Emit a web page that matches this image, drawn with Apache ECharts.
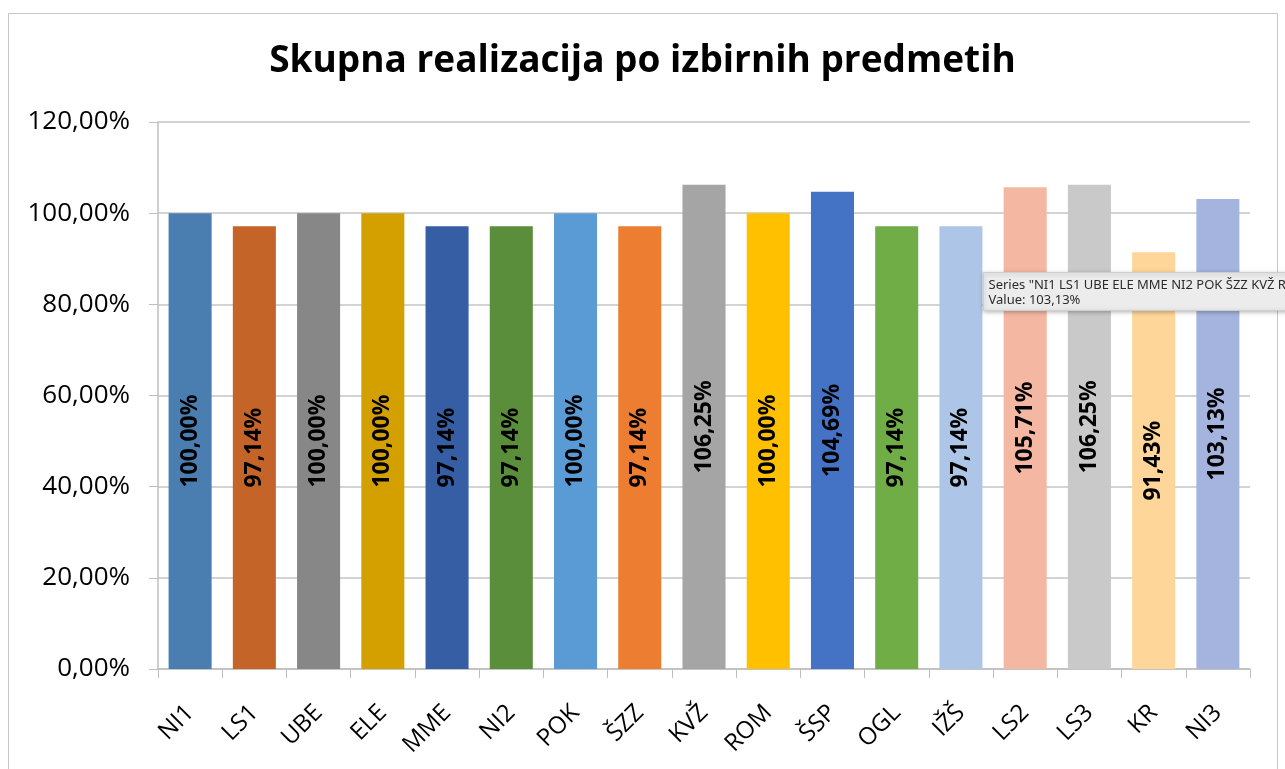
<!DOCTYPE html>
<html>
<head>
<meta charset="utf-8">
<script src="https://cdn.jsdelivr.net/npm/echarts@6/dist/echarts.min.js"></script>
<style>
  html, body { margin: 0; padding: 0; background: #fff; }
  #chart { width: 1285px; height: 769px; }
</style>
</head>
<body>
<div id="chart"></div>
<script>
// podatki
const categories = ['NI1', 'LS1', 'UBE', 'ELE', 'MME', 'NI2', 'POK', 'ŠZZ', 'KVŽ',
  'ROM', 'ŠSP', 'OGL', 'IŽŠ', 'LS2', 'LS3', 'KR', 'NI3']
const realizacija = [100, 97.14, 100, 100, 97.14, 97.14, 100, 97.14, 106.25,
  100, 104.69, 97.14, 97.14, 105.71, 106.25, 91.43, 103.13]
const yTicks = [0, 20, 40, 60, 80, 100, 120]

const barColors = [
  '#4a7eb1', '#c56428', '#878787', '#d4a000', '#355ea4', '#5a8e3a',
  '#5b9bd5', '#ed7d31', '#a5a5a5', '#ffc000', '#4472c4', '#70ad47',
  '#adc6e7', '#f4b8a2', '#c9c9c9', '#ffd699', '#a5b4de'
]

const fmt = v => v.toFixed(2).replace('.', ',') + '%'
const font = '"Open Sans", "Noto Sans", sans-serif'

const chart = echarts.init(document.getElementById('chart'))

const option = {
  backgroundColor: '#fff',
  animation: false,
  textStyle: { fontFamily: font },
  title: {
    text: 'Skupna realizacija po izbirnih predmetih',
    left: 'center',
    top: 38,
    textStyle: { fontSize: 37, fontWeight: 'bold', color: '#000', fontFamily: font }
  },
  grid: { left: 158, right: 35, top: 122, bottom: 100 },
  xAxis: {
    type: 'category',
    data: categories,
    axisLine: { lineStyle: { color: '#bfbfbf', width: 1.5 } },
    axisTick: { show: true, length: 9, lineStyle: { color: '#bfbfbf' } },
    axisLabel: { rotate: 45, fontSize: 24, color: '#000', margin: 40 }
  },
  yAxis: {
    type: 'value',
    min: yTicks[0],
    max: yTicks[yTicks.length - 1],
    interval: 20,
    axisLine: { show: true, lineStyle: { color: '#bfbfbf', width: 1.5 } },
    axisTick: { show: true, length: 9, lineStyle: { color: '#bfbfbf' } },
    splitLine: { lineStyle: { color: '#c4c4c4', width: 1.5 } },
    axisLabel: { fontSize: 26, color: '#000', margin: 28, formatter: v => fmt(v) }
  },
  series: [{
    type: 'bar',
    data: realizacija.map((v, i) => ({ value: v, itemStyle: { color: barColors[i] } })),
    barWidth: '67%',
    label: {
      show: true,
      position: 'inside',
      rotate: 90,
      fontSize: 23,
      fontWeight: 'bold',
      color: '#000',
      formatter: p => fmt(p.value)
    }
  }],
  graphic: [
    {
      type: 'rect',
      shape: { x: 8.5, y: 13.5, width: 1269, height: 800 },
      style: { fill: 'none', stroke: '#c6c6c6', lineWidth: 1 },
      silent: true
    },
    // tooltip, ki je ostal na posnetku
    {
      type: 'group',
      left: 983,
      top: 272,
      z: 100,
      children: [
        {
          type: 'rect',
          z: 100,
          shape: { x: 0, y: 0, width: 320, height: 38 },
          style: {
            fill: '#ececec', stroke: '#cfcfcf', lineWidth: 1,
            shadowBlur: 4, shadowColor: 'rgba(0,0,0,0.25)', shadowOffsetY: 1
          }
        },
        {
          type: 'text',
          z: 101,
          x: 5, y: 5,
          style: {
            text: 'Series "NI1 LS1 UBE ELE MME NI2 POK ŠZZ KVŽ ROM ŠSP OGL IŽŠ LS2 LS3 KR NI3" Point "NI3"\nValue: 103,13%',
            fill: '#2b2b2b', font: '13px "Noto Sans", sans-serif', lineHeight: 15
          }
        }
      ]
    }
  ]
}

chart.setOption(option)
</script>
</body>
</html>
